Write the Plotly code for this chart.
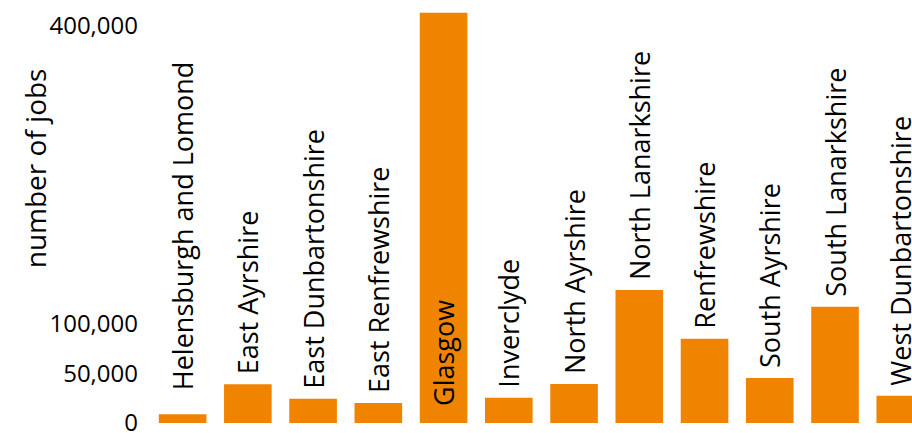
import plotly.graph_objects as go

areas = ["Helensburgh and Lomond", "East Ayrshire", "East Dunbartonshire", "East Renfrewshire",
         "Glasgow", "Inverclyde", "North Ayrshire", "North Lanarkshire", "Renfrewshire",
         "South Ayrshire", "South Lanarkshire", "West Dunbartonshire"]
jobs = [8800, 39000, 24500, 20100, 413200, 25500, 39300, 133900, 84900, 45300, 117100, 27500]
label_prefix = ["   ", " ", " ", " ", "  ", " ", " ", " ", " ", " ", " ", " "]
label_pos = ["outside", "outside", "outside", "outside", "inside", "outside", "outside",
             "outside", "outside", "outside", "outside", "outside"]
y_ticks = [0, 50000, 100000, 400000]

FONT = "Open Sans"
ORANGE = "#F08400"

fig = go.Figure(go.Bar(
    x=areas, y=jobs,
    text=[p + a for p, a in zip(label_prefix, areas)],
    textposition=label_pos,
    textangle=-90,
    insidetextanchor="start",
    constraintext="none",
    textfont=dict(family=FONT, size=27, color="black"),
    insidetextfont=dict(family=FONT, size=27, color="black"),
    outsidetextfont=dict(family=FONT, size=27, color="black"),
    marker=dict(color=ORANGE, line=dict(width=0)),
    hoverinfo="skip",
))

fig.update_layout(
    width=912, height=433,
    margin=dict(l=150, r=0, t=0, b=10, autoexpand=False),
    paper_bgcolor="white", plot_bgcolor="white",
    bargap=0.27,
    showlegend=False,
    font=dict(family=FONT, color="black"),
    xaxis=dict(range=[-0.5, 11.18], showticklabels=False, showgrid=False,
               zeroline=False, showline=False, ticks="", automargin=False),
    yaxis=dict(range=[0, 426000], tickvals=y_ticks, tickformat=",",
               tickfont=dict(family=FONT, size=24, color="black"),
               showgrid=False, zeroline=False, showline=False, ticks="",
               ticklabelstandoff=11, ticklabeloverflow="allow", automargin=False),
    annotations=[dict(text="number of jobs", textangle=-90, xref="paper", yref="paper",
                      x=-0.151, y=0.602, xanchor="center", yanchor="middle",
                      showarrow=False, font=dict(family=FONT, size=28, color="black"))],
)

fig.write_html("out.html")
